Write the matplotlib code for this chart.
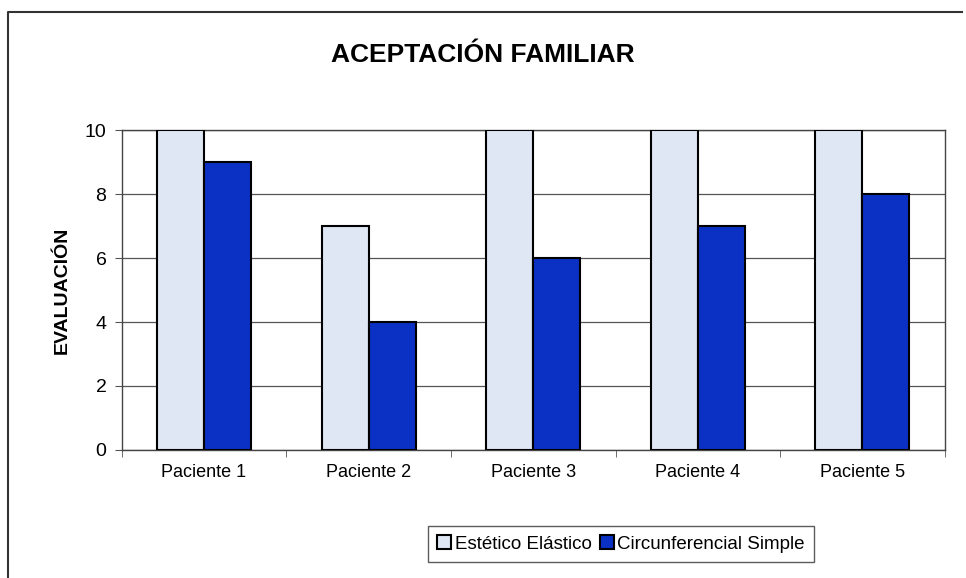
import matplotlib.pyplot as plt
import numpy as np
from matplotlib.lines import Line2D

plt.rcParams['font.family'] = ['Liberation Sans', 'DejaVu Sans']

categories = ["Paciente 1", "Paciente 2", "Paciente 3", "Paciente 4", "Paciente 5"]
estetico = [10, 7, 10, 10, 10]
circunferencial = [9, 4, 6, 7, 8]
series_names = ["Estético Elástico", "Circunferencial Simple"]

fig = plt.figure(figsize=(9.66, 5.78), dpi=100)
ax = fig.add_axes([0.126, 0.2215, 0.852, 0.5535])

x = np.arange(len(categories))
w = 1 / 3.5
ax.bar(x - w / 2, estetico, width=w, color="#dfe6f4", edgecolor="black",
       linewidth=1.5, label=series_names[0], zorder=3)
ax.bar(x + w / 2, circunferencial, width=w, color="#0b30c4", edgecolor="black",
       linewidth=1.5, label=series_names[1], zorder=3)

ax.set_xlim(-0.5, len(categories) - 0.5)
ax.set_ylim(0, 10)
ax.set_yticks(range(0, 11, 2))
ax.yaxis.grid(True, color="#555555", linewidth=0.9, zorder=0)
ax.set_xticks(x)
ax.set_xticklabels(categories, fontsize=13)
ax.tick_params(axis="x", length=0, pad=10)
ax.set_xticks(np.arange(-0.5, len(categories), 1), minor=True)
ax.tick_params(axis="x", which="minor", length=5, color="#555555")
ax.tick_params(axis="y", labelsize=14, length=5, pad=6, color="#555555")
for side in ["left", "bottom", "right", "top"]:
    ax.spines[side].set_color("#444444")
    ax.spines[side].set_linewidth(1.0)

ax.set_ylabel("EVALUACIÓN", fontsize=14, fontweight="bold", labelpad=10)
fig.text(0.5, 0.905, "ACEPTACIÓN FAMILIAR", ha="center", va="center",
         fontsize=19, fontweight="bold")

leg = fig.legend(loc="center", bbox_to_anchor=(0.643, 0.059), ncol=2,
                 fontsize=13.5, frameon=True, fancybox=False,
                 handlelength=0.75, handleheight=0.75, handletextpad=0.2,
                 columnspacing=0.4, borderpad=0.5)
leg.get_frame().set_edgecolor("#333333")
leg.get_frame().set_linewidth(1.0)

# outer chart frame (only top and left edges are visible in the scan)
fig.lines.append(Line2D([8 / 966, 8 / 966, 962 / 966],
                        [0, 1 - 12 / 578, 1 - 12 / 578],
                        transform=fig.transFigure, color="#333333",
                        linewidth=1.5))

fig.savefig("out.png", dpi=100)
